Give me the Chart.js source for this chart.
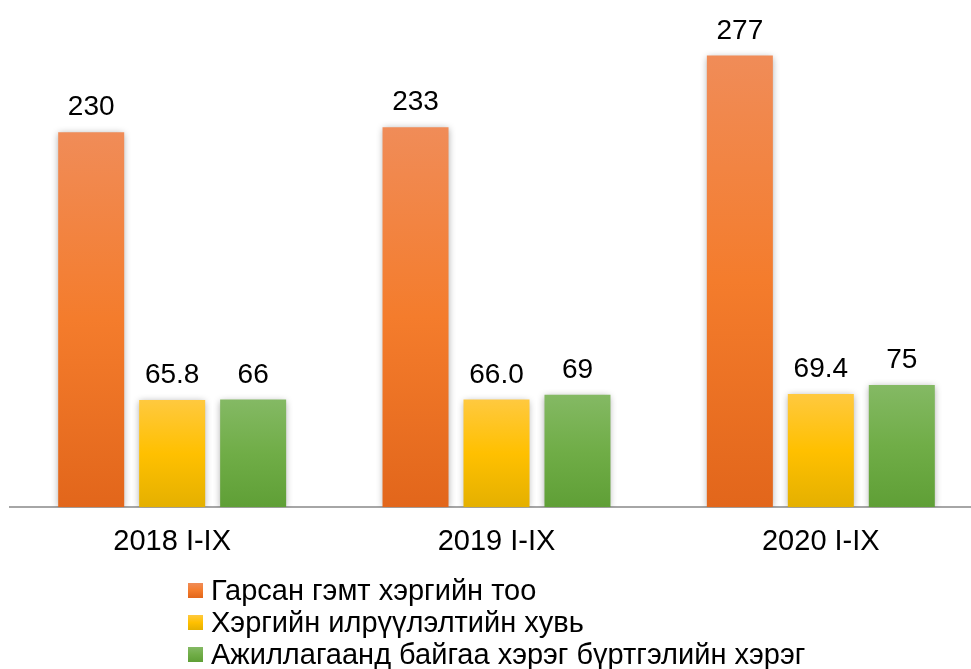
<!DOCTYPE html>
<html>
<head>
<meta charset="utf-8">
<script src="https://cdn.jsdelivr.net/npm/chart.js@4.4.0/dist/chart.umd.min.js"></script>
<style>
    html, body { margin: 0; padding: 0; background: #fff; overflow: hidden; width: 971px; height: 669px; }
    #wrap { position: relative; width: 971px; height: 669px; overflow: hidden; }
    #chart { position: absolute; left: 0; top: 0; }
    #legend { position: absolute; left: 188px; top: 574px; font-family: "Liberation Sans", Arial, sans-serif; font-size: 29px; color: #000; }
    .item { display: flex; align-items: center; height: 32px; line-height: 32px; white-space: nowrap; }
    .box { width: 15px; height: 15px; margin-right: 8px; flex: none; }
</style>
</head>
<body>
<div id="wrap">
    <canvas id="chart" width="985" height="579" style="width:985px;height:579px"></canvas>
    <div id="legend"></div>
</div>
<script>
// Data
const categories = ['2018 I-IX', '2019 I-IX', '2020 I-IX'];
const seriesNames = [
    'Гарсан гэмт хэргийн тоо',
    'Хэргийн илрүүлэлтийн хувь',
    'Ажиллагаанд байгаа хэрэг бүртгэлийн хэрэг'
];
const crimeCount = [230, 233, 277];
const detectionRate = [65.8, 66.0, 69.4];
const registeredCases = [66, 69, 75];
const labelDecimals = [0, 1, 0];

// top / middle / bottom colors of each bar gradient
const barColors = [
    ['#f08c58', '#f47c2c', '#e2661b'],  // orange
    ['#ffc93f', '#ffc000', '#e4b000'],  // yellow
    ['#84b964', '#70ad47', '#5f9f36']   // green
];

function barGradient(ctx, colorIdx) {
    const chart = ctx.chart;
    if (!chart.chartArea || !chart.scales.y) return barColors[colorIdx][1];
    const y = chart.scales.y;
    const top = y.getPixelForValue(ctx.raw);
    const bottom = y.getPixelForValue(0);
    const g = chart.ctx.createLinearGradient(0, top, 0, bottom);
    g.addColorStop(0, barColors[colorIdx][0]);
    g.addColorStop(0.5, barColors[colorIdx][1]);
    g.addColorStop(1, barColors[colorIdx][2]);
    return g;
}

// soft shadow round the bars
const barShadow = {
    id: 'barShadow',
    beforeDatasetsDraw(chart) {
        const c = chart.ctx;
        c.save();
        c.shadowColor = 'rgba(0,0,0,0.35)';
        c.shadowBlur = 7;
        c.shadowOffsetX = 0;
        c.shadowOffsetY = 1;
    },
    afterDatasetsDraw(chart) {
        chart.ctx.restore();
    }
};

// value labels above bars
const valueLabels = {
    id: 'valueLabels',
    afterDraw(chart) {
        const c = chart.ctx;
        c.save();
        c.font = '28px "Liberation Sans", Arial, sans-serif';
        c.fillStyle = '#000';
        c.textAlign = 'center';
        c.textBaseline = 'alphabetic';
        chart.data.datasets.forEach((ds, di) => {
            const meta = chart.getDatasetMeta(di);
            meta.data.forEach((bar, i) => {
                const txt = ds.data[i].toFixed(labelDecimals[di]);
                c.fillText(txt, bar.x, bar.y - 17);
            });
        });
        c.restore();
    }
};

const seriesData = [crimeCount, detectionRate, registeredCases];

new Chart(document.getElementById('chart'), {
    type: 'bar',
    data: {
        labels: categories,
        datasets: seriesData.map((d, i) => ({
            label: seriesNames[i],
            data: d,
            backgroundColor: ctx => barGradient(ctx, i),
            borderWidth: 0,
            barPercentage: 0.815,
            categoryPercentage: 0.749
        }))
    },
    options: {
        responsive: false,
        animation: false,
        layout: { padding: { left: 10, right: 2, top: 18, bottom: 3 } },
        scales: {
            x: {
                grid: { display: false, drawTicks: false },
                border: { display: true, color: '#a6a6a6', width: 2 },
                ticks: {
                    color: '#000',
                    padding: 17,
                    font: { family: '"Liberation Sans", Arial, sans-serif', size: 29 }
                }
            },
            y: {
                display: false,
                min: 0,
                max: 300
            }
        },
        plugins: {
            legend: { display: false },
            tooltip: { enabled: false }
        }
    },
    plugins: [barShadow, valueLabels]
});

// legend below the chart
const legendEl = document.getElementById('legend');
seriesNames.forEach((name, i) => {
    const row = document.createElement('div');
    row.className = 'item';
    const box = document.createElement('span');
    box.className = 'box';
    box.style.background = `linear-gradient(${barColors[i][0]}, ${barColors[i][1]}, ${barColors[i][2]})`;
    row.appendChild(box);
    row.appendChild(document.createTextNode(name));
    legendEl.appendChild(row);
});
</script>
</body>
</html>
